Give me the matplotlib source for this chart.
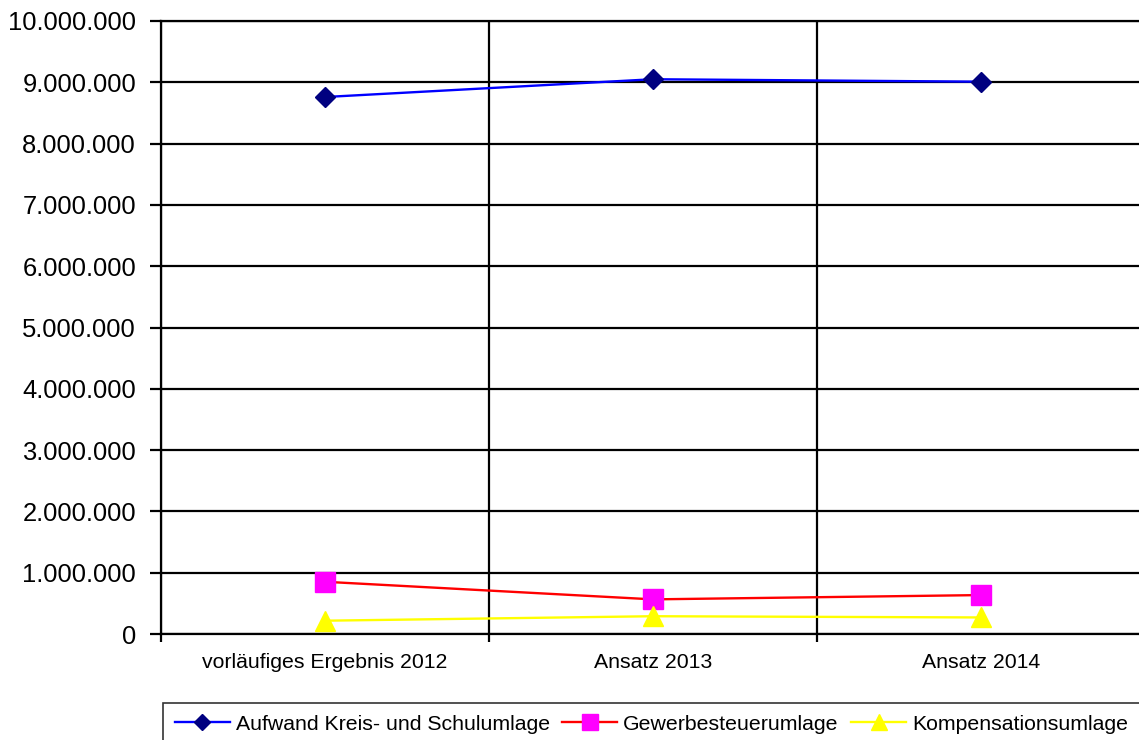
import matplotlib
matplotlib.use("Agg")
import matplotlib.pyplot as plt
from matplotlib.ticker import FuncFormatter, FixedLocator

plt.rcParams["font.family"] = ["Liberation Sans", "DejaVu Sans"]

categories = ["vorläufiges Ergebnis 2012", "Ansatz 2013", "Ansatz 2014"]
kreis_schulumlage = [8760000, 9050000, 9010000]
gewerbesteuerumlage = [852000, 565000, 635000]
kompensationsumlage = [217000, 290000, 270000]
series_names = ["Aufwand Kreis- und Schulumlage", "Gewerbesteuerumlage", "Kompensationsumlage"]
y_ticks = list(range(0, 10000001, 1000000))

fig = plt.figure(figsize=(11.39, 7.40), dpi=100)
ax = fig.add_axes([161 / 1139, 1 - 634 / 740, 984 / 1139, 613 / 740])

x = list(range(len(categories)))

ax.plot(x, kreis_schulumlage, color="#0000FF", lw=1.7, marker="D", ms=10.5,
        mfc="#000080", mec="#000080", label=series_names[0], zorder=5)
ax.plot(x, gewerbesteuerumlage, color="#FF0000", lw=1.7, marker="s", ms=14,
        mfc="#FF00FF", mec="#FF00FF", label=series_names[1], zorder=5)
ax.plot(x, kompensationsumlage, color="#FFFF00", lw=1.7, marker="^", ms=14,
        mfc="#FFFF00", mec="#FFFF00", label=series_names[2], zorder=5)

ax.set_xlim(-0.5, len(categories) - 0.5)
ax.set_ylim(0, 10000000)

# y axis: German thousands separators
ax.yaxis.set_major_locator(FixedLocator(y_ticks))
ax.yaxis.set_major_formatter(FuncFormatter(lambda v, p: f"{int(v):,}".replace(",", ".")))
ax.tick_params(axis="y", which="major", length=8, width=1.6, pad=10,
               labelsize=18.4, color="black")

# x axis: tick marks on category boundaries, labels at category centres
bounds = [i - 0.5 for i in range(len(categories) + 1)]
ax.set_xticks(bounds)
ax.set_xticklabels([""] * len(bounds))
ax.set_xticks(x, minor=True)
ax.set_xticklabels(categories, minor=True)
ax.tick_params(axis="x", which="major", length=6, width=1.6, color="black")
ax.tick_params(axis="x", which="minor", length=0, pad=14, labelsize=15.3)

ax.grid(True, which="major", axis="both", color="black", lw=1.6, zorder=0)
ax.set_axisbelow(True)
for side in ["left", "bottom", "top", "right"]:
    ax.spines[side].set_linewidth(1.6)
    ax.spines[side].set_color("black")

leg = fig.legend(loc="upper left", bbox_to_anchor=(163 / 1139, 1 - 703 / 740),
                 ncol=3, fontsize=15.3, frameon=True, fancybox=False,
                 edgecolor="black", handlelength=2.6, handletextpad=0.27,
                 columnspacing=0.58, borderpad=0.55, borderaxespad=0,
                 markerscale=0.8)
leg.get_frame().set_linewidth(1.2)

fig.savefig("out.png", dpi=100)
